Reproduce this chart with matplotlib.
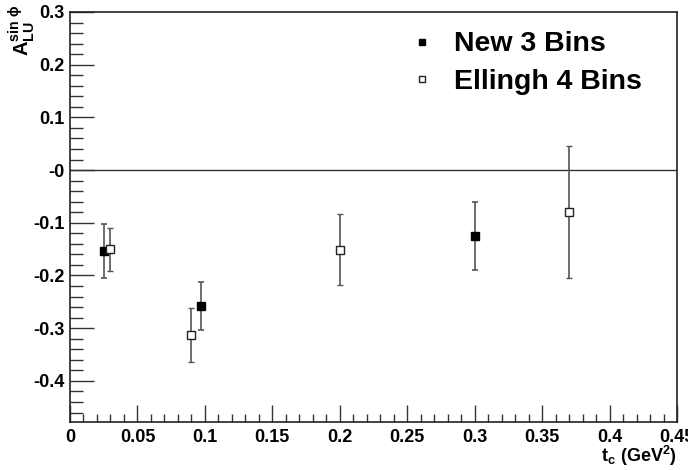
import matplotlib
matplotlib.use("Agg")
import matplotlib.pyplot as plt
from matplotlib.lines import Line2D
from matplotlib.ticker import MultipleLocator, FuncFormatter

plt.rcParams['font.family'] = ['Liberation Sans', 'DejaVu Sans']
plt.rcParams['font.weight'] = 'bold'
plt.rcParams['mathtext.fontset'] = 'custom'
plt.rcParams['mathtext.rm'] = 'Liberation Sans:bold'
plt.rcParams['mathtext.it'] = 'Liberation Sans:bold'
plt.rcParams['mathtext.bf'] = 'Liberation Sans:bold'

# Data
new_t = [0.025, 0.097, 0.300]
new_a = [-0.153, -0.258, -0.125]
new_err = [0.051, 0.045, 0.064]

ell_t = [0.030, 0.090, 0.200, 0.370]
ell_a = [-0.150, -0.313, -0.151, -0.079]
ell_err = [0.041, 0.052, 0.067, 0.125]

labels = ['New 3 Bins', 'Ellingh 4 Bins']

fig = plt.figure(figsize=(6.88, 4.70), dpi=100)
ax = fig.add_axes([70/688, 48/470, 607/688, 410/470])

ax.axhline(0, color='#333333', lw=1.0, zorder=1)

ax.errorbar(new_t, new_a, yerr=new_err, fmt='s', color='black', ecolor='#555555',
            elinewidth=1.2, capsize=2.5, capthick=1.2, markersize=5.5,
            markerfacecolor='black', markeredgecolor='black', zorder=3)
ax.errorbar(ell_t, ell_a, yerr=ell_err, fmt='s', color='black', ecolor='#555555',
            elinewidth=1.2, capsize=2.5, capthick=1.2, markersize=5.8,
            markerfacecolor='white', markeredgecolor='#222222', markeredgewidth=1.0,
            zorder=3)

ax.set_xlim(0, 0.45)
ax.set_ylim(-0.478, 0.3)

ax.xaxis.set_major_locator(MultipleLocator(0.05))
ax.xaxis.set_minor_locator(MultipleLocator(0.01))
ax.yaxis.set_major_locator(MultipleLocator(0.1))
ax.yaxis.set_minor_locator(MultipleLocator(0.02))

def xfmt(v, p):
    return f"{v:.2f}".rstrip('0').rstrip('.')
def yfmt(v, p):
    if abs(v) < 1e-9:
        return "-0"
    return f"{v:.1f}"
ax.xaxis.set_major_formatter(FuncFormatter(xfmt))
ax.yaxis.set_major_formatter(FuncFormatter(yfmt))

ax.tick_params(axis='both', which='both', direction='in', top=False, right=False,
               labelsize=13, width=1.0, color='#333333')
ax.tick_params(axis='y', which='major', length=17, pad=4)
ax.tick_params(axis='y', which='minor', length=9)
ax.tick_params(axis='x', which='major', length=12, pad=5)
ax.tick_params(axis='x', which='minor', length=6)
for lab in ax.get_xticklabels() + ax.get_yticklabels():
    lab.set_fontweight('bold')
for s in ax.spines.values():
    s.set_linewidth(1.2)
    s.set_color('#222222')

handles = [
    Line2D([], [], marker='s', ls='none', markersize=5, markerfacecolor='black',
           markeredgecolor='black'),
    Line2D([], [], marker='s', ls='none', markersize=5, markerfacecolor='white',
           markeredgecolor='#222222', markeredgewidth=1.0),
]
leg = ax.legend(handles, labels, loc='upper right', bbox_to_anchor=(0.985, 1.015),
                frameon=False, prop={'size': 20.5, 'weight': 'bold'}, handlelength=0.8,
                handletextpad=0.75, labelspacing=0.4)

fig.text(677/688, 1 - 456/470, r'$\mathregular{t_c\ (GeV^2)}$', ha='right', va='center',
         fontsize=13, fontweight='bold')
fig.text(22/688, 1 - 5/470, r'$\mathregular{A_{LU}^{sin\ \phi}}$', ha='center', va='top',
         rotation=90, fontsize=14.5, fontweight='bold')

fig.savefig('out.png', dpi=100)
